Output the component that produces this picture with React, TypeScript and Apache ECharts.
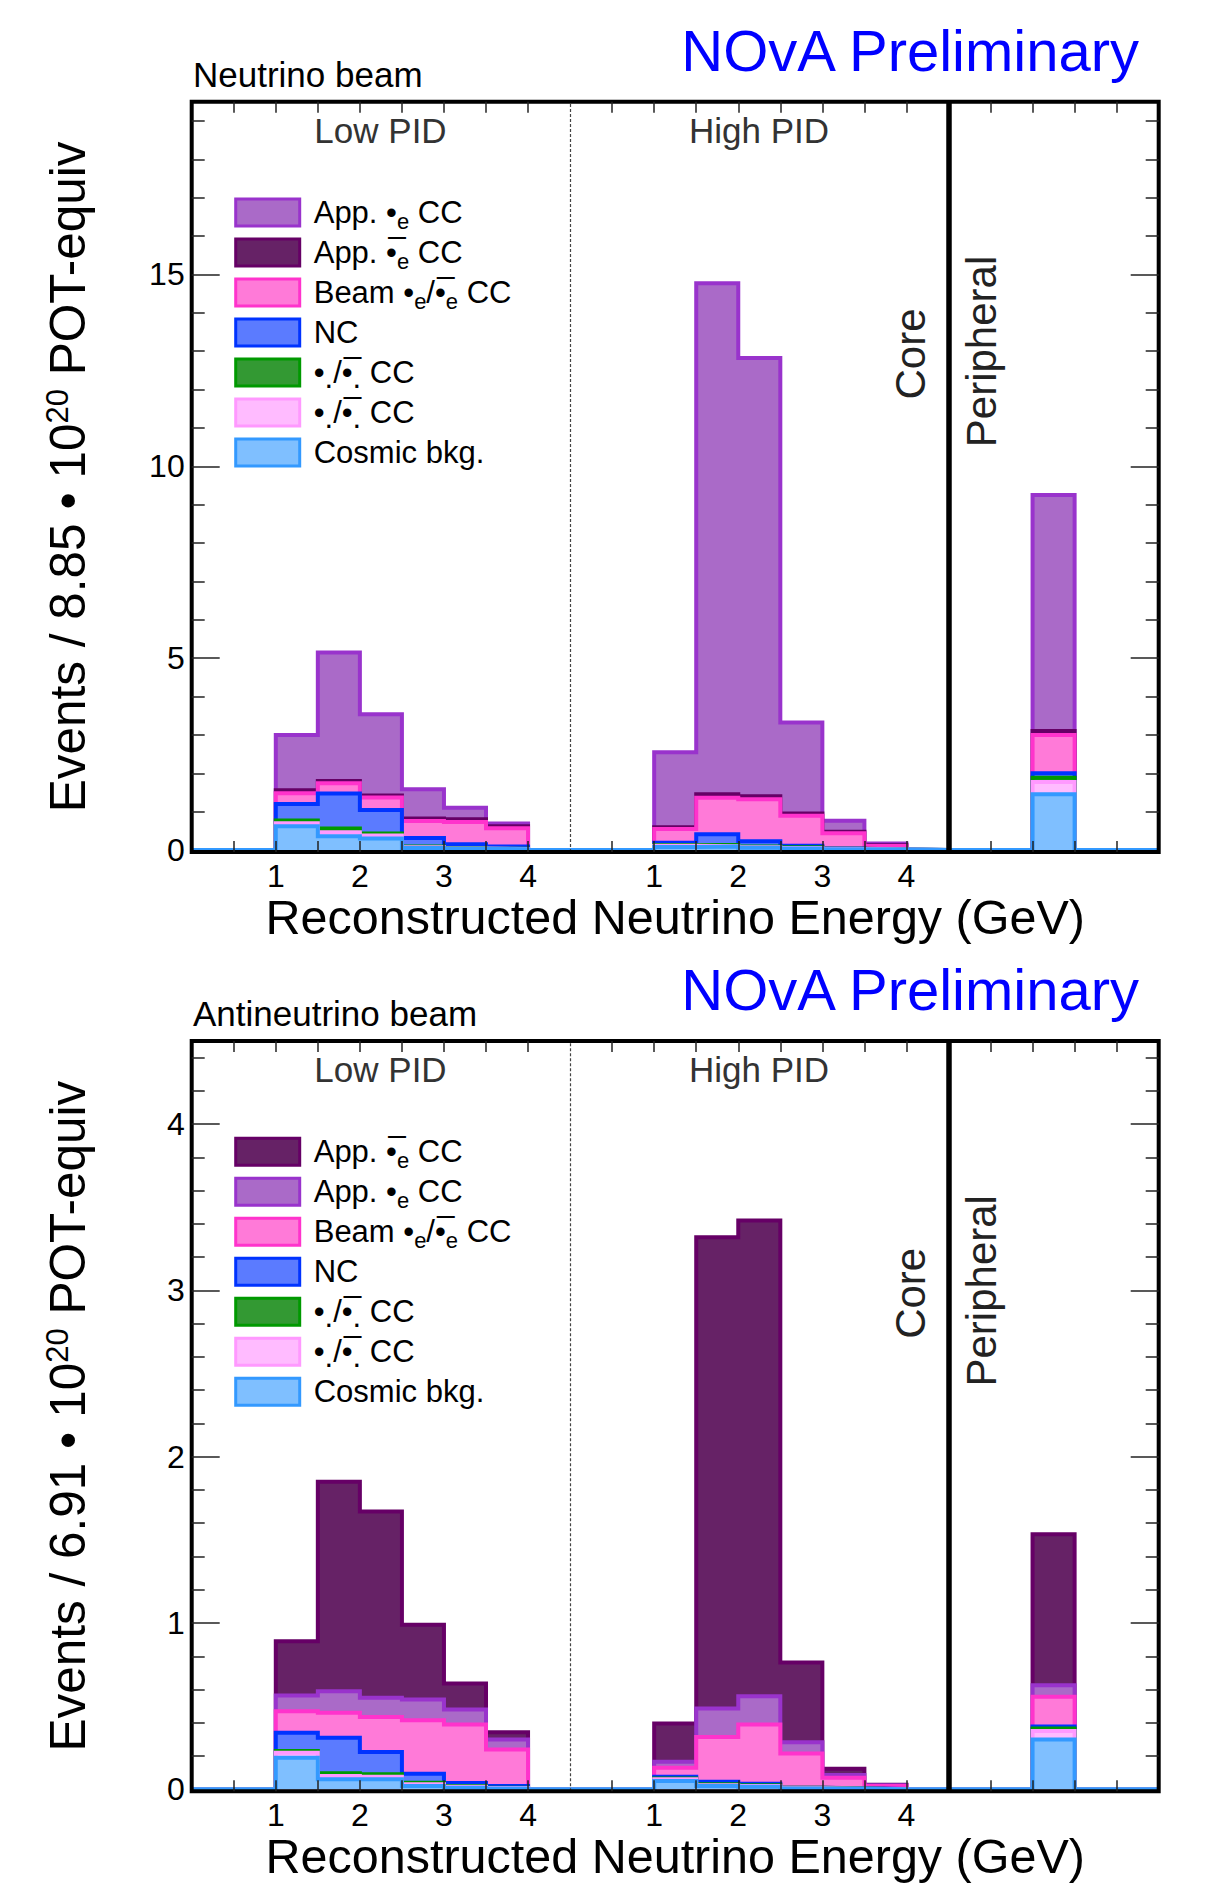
import React, { useEffect, useRef } from "react";
import * as echarts from "echarts";

// ---------------- DATA ----------------
// Lower bin edges on the combined x axis (GeV): Low PID 1–4, High PID 1–4 (shifted by 4.5), Peripheral bin
const binStarts = [1, 1.5, 2, 2.5, 3, 3.5, 5.5, 6, 6.5, 7, 7.5, 8, 10];
const BIN_WIDTH = 0.5;
const X_MAX = 11.5;
const SECTION_OFFSET = 4.5;
const xLabelValues = [1, 2, 3, 4, 5.5, 6.5, 7.5, 8.5];

// Neutrino beam (13 values: 6 Low PID, 6 High PID, 1 Peripheral)
const nuCosmic = [0.62, 0.36, 0.3, 0.05, 0.03, 0.02, 0.08, 0.09, 0.06, 0.04, 0.02, 0.01, 1.45];
const nuNutau = [0.08, 0.1, 0.08, 0.02, 0.01, 0.005, 0.03, 0.01, 0.01, 0.01, 0.005, 0.002, 0.32];
const nuNumu = [0.07, 0.1, 0.05, 0.02, 0.01, 0.005, 0.02, 0.03, 0.02, 0.02, 0.005, 0.002, 0.11];
const nuNC = [0.43, 0.91, 0.61, 0.22, 0.1, 0.06, 0.06, 0.28, 0.14, 0.04, 0.01, 0.003, 0.12];
const nuBeam = [0.28, 0.27, 0.33, 0.445, 0.58, 0.48, 0.36, 0.95, 1.09, 0.78, 0.395, 0.085, 1.0];
const nuAppNuebar = [0.08, 0.06, 0.05, 0.065, 0.07, 0.05, 0.04, 0.09, 0.08, 0.06, 0.04, 0.02, 0.1];
const nuAppNue = [1.44, 3.35, 2.12, 0.76, 0.3, 0.07, 1.96, 13.32, 11.42, 2.37, 0.29, 0.05, 6.15];

// Antineutrino beam
const anuCosmic = [0.19, 0.06, 0.06, 0.02, 0.01, 0.005, 0.05, 0.02, 0.015, 0.005, 0.003, 0.001, 0.3];
const anuNutau = [0.03, 0.02, 0.015, 0.01, 0.005, 0.003, 0.01, 0.005, 0.005, 0.002, 0.001, 0, 0.05];
const anuNumu = [0.01, 0.016, 0.015, 0.01, 0.005, 0.002, 0.005, 0.005, 0.005, 0.002, 0.001, 0, 0.015];
const anuNC = [0.11, 0.214, 0.135, 0.054, 0.018, 0.01, 0.011, 0.016, 0.009, 0.001, 0.001, 0.001, 0.012];
const anuBeam = [0.13, 0.15, 0.21, 0.321, 0.352, 0.22, 0.054, 0.269, 0.356, 0.205, 0.064, 0.018, 0.179];
const anuAppNue = [0.094, 0.13, 0.115, 0.125, 0.09, 0.06, 0.035, 0.171, 0.17, 0.068, 0.016, 0.005, 0.07];
const anuAppNuebar = [0.326, 1.26, 1.12, 0.45, 0.156, 0.043, 0.23, 2.834, 2.86, 0.48, 0.038, 0.003, 0.908];

// y ticks
const nuMajorTicks = [0, 5, 10, 15];
const nuMinorTicks = [1, 2, 3, 4, 6, 7, 8, 9, 11, 12, 13, 14, 16, 17, 18, 19];
const anuMajorTicks = [0, 1, 2, 3, 4];
const anuMinorTicks = [0.2, 0.4, 0.6, 0.8, 1.2, 1.4, 1.6, 1.8, 2.2, 2.4, 2.6, 2.8, 3.2, 3.4, 3.6, 3.8, 4.2, 4.4];

// ---------------- STYLE ----------------
const FONT = "Liberation Sans";
const COLORS: Record<string, { fill: string; line: string }> = {
  appNue: { fill: "#aa6ac8", line: "#9933cc" },
  appNuebar: { fill: "#662266", line: "#660066" },
  beam: { fill: "#ff7ad8", line: "#ff33cc" },
  nc: { fill: "#5b7bff", line: "#0033ff" },
  numu: { fill: "#339933", line: "#009900" },
  nutau: { fill: "#ffbbff", line: "#ff99ff" },
  cosmic: { fill: "#7fbfff", line: "#3399ff" },
};
const BAR = "\u0305";
const LEGEND_TEXT: Record<string, string> = {
  appNue: "App. •{sub|e} CC",
  appNuebar: "App. •" + BAR + "{sub|e} CC",
  beam: "Beam •{sub|e}/•" + BAR + "{sub|e} CC",
  nc: "NC",
  numu: "•{dot|.}/•" + BAR + "{dot|.} CC",
  nutau: "•{dot|.}/•" + BAR + "{dot|.} CC",
  cosmic: "Cosmic bkg.",
};

const FRAME_LEFT = 191.7;
const FRAME_WIDTH = 967;
const FRAME_HEIGHT = 750.3; // frame bottom sits ~2px below the zero line
const PANEL_TOPS = [101.7, 1041];
const PANEL_SHIFT = PANEL_TOPS[1] - PANEL_TOPS[0];
const Y_MAX = [19.5, 4.5];
const Y_MIN = [-0.052, -0.012];

const NB = Math.round(X_MAX / BIN_WIDTH);

function expand(vals: number[]) {
  const h = new Array(NB).fill(0);
  binStarts.forEach((s, i) => {
    h[Math.round(s / BIN_WIDTH)] = vals[i];
  });
  return h;
}
function stepData(h: number[]) {
  const d = h.map((v, i) => [i * BIN_WIDTH, v]);
  d.push([X_MAX, h[NB - 1]]);
  return d;
}

const xTickValues: number[] = [];
for (let i = 1; i < NB; i++) {
  const v = i * BIN_WIDTH;
  if (v !== SECTION_OFFSET && v !== 2 * SECTION_OFFSET) xTickValues.push(v);
}

function panelSeries(layers: { key: string; values: number[] }[], xAxisIndex: number, yAxisIndex: number) {
  const cum: number[][] = [];
  let run = new Array(NB).fill(0);
  layers.forEach((l) => {
    const h = expand(l.values);
    run = run.map((v, i) => v + h[i]);
    cum.push(run.slice());
  });
  const out: any[] = [];
  for (let k = layers.length - 1; k >= 0; k--) {
    const c = COLORS[layers[k].key];
    const s: any = {
      type: "line",
      name: layers[k].key,
      xAxisIndex,
      yAxisIndex,
      step: "end",
      data: stepData(cum[k]),
      symbol: "none",
      showSymbol: false,
      silent: true,
      z: 2 + (layers.length - 1 - k),
      lineStyle: { color: c.line, width: 4, join: "miter", cap: "butt" },
      itemStyle: { color: c.fill, borderColor: c.line, borderWidth: 3 },
      areaStyle: { color: c.fill, opacity: 1, origin: 0 },
      emphasis: { disabled: true },
      animation: false,
    };
    if (k === 0) {
      s.markLine = {
        silent: true,
        symbol: ["none", "none"],
        label: { show: false },
        z: 9,
        animation: false,
        data: [
          { xAxis: SECTION_OFFSET, lineStyle: { type: [3, 2], width: 1.2, color: "#444" } },
          { xAxis: 2 * SECTION_OFFSET, lineStyle: { type: "solid", width: 5.5, color: "#000" } },
        ],
      };
    }
    out.push(s);
  }
  return out;
}

const noLine = { show: false, onZero: false };
const noSplit = { show: false };
const noLabel = { show: false };

function tickStyle(length: number, values: number[]) {
  return { show: true, inside: true, length, lineStyle: { color: "#222", width: 1.5 }, customValues: values };
}

// per panel: x axes [bottom ticks, top ticks, hidden (minor grid), labels+title (label grid)]
function panelXAxes(g0: number) {
  const base = { type: "value", min: 0, max: X_MAX, z: 10, axisLine: noLine, splitLine: noSplit };
  return [
    { ...base, gridIndex: g0, position: "bottom", axisTick: tickStyle(11, xTickValues), axisLabel: noLabel },
    { ...base, gridIndex: g0, position: "top", axisTick: tickStyle(11, xTickValues), axisLabel: noLabel },
    { ...base, gridIndex: g0 + 1, show: false },
    {
      ...base, gridIndex: g0 + 2, position: "bottom",
      axisTick: { show: false },
      axisLabel: {
        show: true, fontSize: 32, color: "#000", fontFamily: FONT, margin: 10.5, lineHeight: 26,
        customValues: xLabelValues,
        formatter: (v: number) => (xLabelValues.indexOf(v) < 0 ? "" : String(v < SECTION_OFFSET ? v : v - SECTION_OFFSET)),
      },
      name: "Reconstructed Neutrino Energy (GeV)",
      nameLocation: "middle", nameGap: 44.5, nameMoveOverlap: false,
      nameTextStyle: { fontSize: 48.5, lineHeight: 40, color: "#000", fontFamily: FONT },
    },
  ];
}
// per panel: y axes [left major ticks, right major ticks, left minor, right minor, labels+title]
function panelYAxes(g0: number, p: number, major: number[], minor: number[], title: string) {
  const base = { type: "value", min: Y_MIN[p], max: Y_MAX[p], z: 10, axisLine: noLine, splitLine: noSplit, axisLabel: noLabel };
  const majorTicks = major.filter((t) => t > 0);
  return [
    { ...base, gridIndex: g0, position: "left", axisTick: tickStyle(28, majorTicks) },
    { ...base, gridIndex: g0, position: "right", axisTick: tickStyle(28, majorTicks) },
    { ...base, gridIndex: g0 + 1, position: "left", axisTick: tickStyle(13, minor) },
    { ...base, gridIndex: g0 + 1, position: "right", axisTick: tickStyle(13, minor) },
    {
      ...base, gridIndex: g0 + 2, position: "left",
      axisTick: { show: false },
      axisLabel: {
        show: true, fontSize: 32, color: "#000", fontFamily: FONT, margin: 7,
        customValues: major,
        formatter: (v: number) => (major.indexOf(v) < 0 ? "" : String(v)),
      },
      name: title, nameLocation: "middle", nameRotate: 90, nameGap: 98, nameMoveOverlap: false,
      nameTextStyle: {
        fontSize: 49.5, lineHeight: 52, color: "#000", fontFamily: FONT,
        rich: { sup: { fontSize: 31, lineHeight: 20, verticalAlign: "top", color: "#000", fontFamily: FONT } },
      },
    },
  ];
}

function legend(top: number, order: string[]) {
  return {
    orient: "vertical", left: 234.2, top, padding: 0, itemGap: 0, itemWidth: 64, itemHeight: 27,
    icon: "rect", selectedMode: false, z: 20,
    data: order.map((k) => ({
      name: k,
      icon: "rect",
      itemStyle: { color: COLORS[k].fill, borderColor: COLORS[k].line, borderWidth: 3 },
    })),
    formatter: (name: string) => LEGEND_TEXT[name] || name,
    textStyle: {
      fontSize: 31, lineHeight: 40, color: "#000", fontFamily: FONT, padding: [0, 0, 0, 9],
      rich: {
        sub: { fontSize: 22, lineHeight: 14, verticalAlign: "bottom", color: "#000", fontFamily: FONT },
        dot: { fontSize: 31, lineHeight: 32, verticalAlign: "bottom", color: "#000", fontFamily: FONT },
      },
    },
  };
}

function text(x: number, y: number, t: string, fontSize: number, fill: string, align: string, rotation = 0) {
  return {
    type: "text", x, y, rotation, silent: true, z: 20,
    style: { text: t, fontSize, fontFamily: FONT, fill, align, verticalAlign: "middle" },
  };
}

function buildOption() {
  const grids: any[] = [];
  PANEL_TOPS.forEach((top) => {
    const gridBase = { left: FRAME_LEFT, width: FRAME_WIDTH, height: FRAME_HEIGHT, top, outerBoundsMode: "none", containLabel: false };
    grids.push({ ...gridBase, show: true, borderColor: "#000", borderWidth: 4, backgroundColor: "transparent", z: 10 });
    grids.push({ ...gridBase, show: false });
    grids.push({ ...gridBase, show: false });
  });
  const xAxis = [...panelXAxes(0), ...panelXAxes(3)];
  const yAxis = [
    ...panelYAxes(0, 0, nuMajorTicks, nuMinorTicks, "Events / 8.85 • 10{sup|20} POT-equiv"),
    ...panelYAxes(3, 1, anuMajorTicks, anuMinorTicks, "Events / 6.91 • 10{sup|20} POT-equiv"),
  ];
  const series = [
    ...panelSeries(
      [
        { key: "cosmic", values: nuCosmic },
        { key: "nutau", values: nuNutau },
        { key: "numu", values: nuNumu },
        { key: "nc", values: nuNC },
        { key: "beam", values: nuBeam },
        { key: "appNuebar", values: nuAppNuebar },
        { key: "appNue", values: nuAppNue },
      ],
      0,
      0
    ),
    ...panelSeries(
      [
        { key: "cosmic", values: anuCosmic },
        { key: "nutau", values: anuNutau },
        { key: "numu", values: anuNumu },
        { key: "nc", values: anuNC },
        { key: "beam", values: anuBeam },
        { key: "appNue", values: anuAppNue },
        { key: "appNuebar", values: anuAppNuebar },
      ],
      4,
      5
    ),
  ];

  const elements: any[] = [];
  [0, 1].forEach((p) => {
    const dy = p * PANEL_SHIFT;
    elements.push(text(1139, 50.6 + dy, "NOvA Preliminary", 58, "#0000ff", "right"));
    elements.push(text(193, 74.6 + dy, p === 0 ? "Neutrino beam" : "Antineutrino beam", 35, "#000", "left"));
    elements.push(text(380.5, 130 + dy, "Low PID", 35, "#333", "center"));
    elements.push(text(759, 130 + dy, "High PID", 35, "#333", "center"));
    elements.push(text(910, 354 + dy, "Core", 42, "#222", "center", Math.PI / 2));
    elements.push(text(981.7, 351.5 + dy, "Peripheral", 42, "#222", "center", Math.PI / 2));
  });

  return {
    animation: false,
    backgroundColor: "#fff",
    textStyle: { fontFamily: FONT },
    grid: grids,
    xAxis,
    yAxis,
    legend: [
      legend(192.5, ["appNue", "appNuebar", "beam", "nc", "numu", "nutau", "cosmic"]),
      legend(192.5 + PANEL_SHIFT, ["appNuebar", "appNue", "beam", "nc", "numu", "nutau", "cosmic"]),
    ],
    graphic: { elements },
    series,
  };
}

export default function App() {
  const ref = useRef<HTMLDivElement>(null);
  useEffect(() => {
    if (!ref.current) return;
    const chart = echarts.init(ref.current, null, { renderer: "svg" });
    chart.setOption(buildOption() as any);
    return () => chart.dispose();
  }, []);
  return (
    <div
      ref={ref}
      style={{ position: "absolute", left: 0, top: 0, width: 1215, height: 1888, background: "#fff" }}
    />
  );
}
